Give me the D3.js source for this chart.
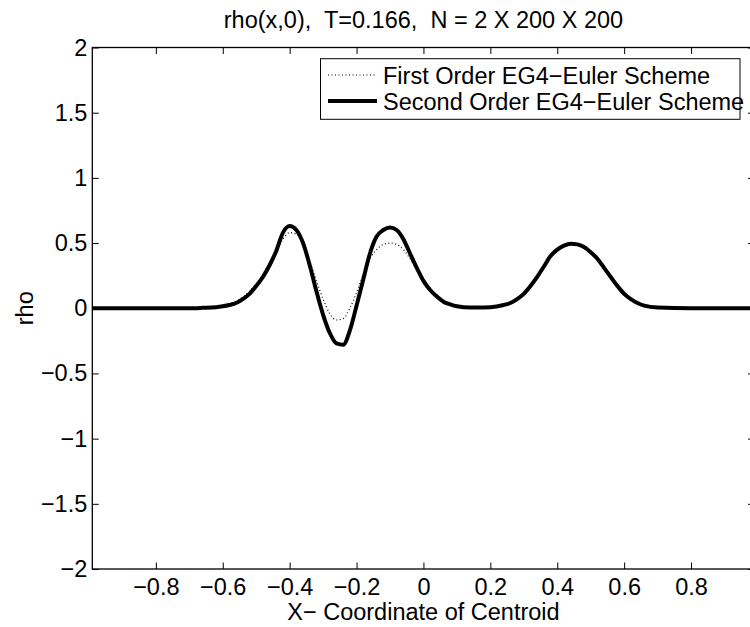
<!DOCTYPE html>
<html>
<head>
<meta charset="utf-8">
<script src="https://cdn.jsdelivr.net/npm/d3@7"></script>
<style>
  body { margin: 0; background: #fff; }
  svg text { font-family: "Liberation Sans", Arial, sans-serif; fill: #000; }
</style>
</head>
<body>
<div id="chart"></div>
<script>
const width = 750, height = 627;
const margin = { top: 47.5, left: 92.3 };
const plotW = 662.3, plotH = 521.5;

// x positions (cell centroids) shared by both series
const xs = [-0.99, -0.9, -0.8, -0.7, -0.66, -0.62, -0.6, -0.58, -0.56, -0.54,
  -0.52, -0.5, -0.48, -0.46, -0.44, -0.42, -0.4, -0.38, -0.36, -0.34,
  -0.32, -0.3, -0.28, -0.26, -0.24, -0.22, -0.2, -0.18, -0.16, -0.14,
  -0.12, -0.1, -0.08, -0.06, -0.04, -0.02, 0, 0.02, 0.04, 0.06,
  0.08, 0.1, 0.12, 0.16, 0.2, 0.24, 0.26, 0.28, 0.3, 0.32,
  0.34, 0.36, 0.38, 0.4, 0.42, 0.44, 0.46, 0.48, 0.5, 0.52,
  0.54, 0.56, 0.58, 0.6, 0.62, 0.64, 0.66, 0.7, 0.8, 0.9, 0.99];

const firstOrder = [0, 0, 0, 0, 0.005, 0.012, 0.02, 0.035, 0.055, 0.085,
  0.13, 0.19, 0.26, 0.35, 0.44, 0.53, 0.58, 0.57, 0.49, 0.36,
  0.21, 0.07, -0.04, -0.09, -0.08, 0.0, 0.12, 0.26, 0.38, 0.45,
  0.49, 0.5, 0.49, 0.45, 0.38, 0.3, 0.22, 0.15, 0.1, 0.06,
  0.035, 0.02, 0.01, 0.005, 0.008, 0.025, 0.04, 0.07, 0.11, 0.17,
  0.24, 0.32, 0.4, 0.45, 0.48, 0.495, 0.49, 0.47, 0.43, 0.38,
  0.31, 0.24, 0.17, 0.11, 0.07, 0.04, 0.02, 0.005, 0, 0, 0];

const secondOrder = [0, 0, 0, 0, 0.003, 0.008, 0.015, 0.025, 0.04, 0.07,
  0.11, 0.17, 0.24, 0.33, 0.44, 0.58, 0.63, 0.6, 0.5, 0.33,
  0.13, -0.05, -0.19, -0.27, -0.28, -0.17, 0.02, 0.22, 0.42, 0.55,
  0.6, 0.62, 0.6, 0.53, 0.42, 0.31, 0.21, 0.14, 0.09, 0.05,
  0.03, 0.015, 0.008, 0.005, 0.008, 0.025, 0.04, 0.07, 0.11, 0.17,
  0.24, 0.32, 0.4, 0.45, 0.48, 0.495, 0.49, 0.47, 0.43, 0.38,
  0.31, 0.24, 0.17, 0.11, 0.07, 0.04, 0.02, 0.005, 0, 0, 0];

const xTicks = [-0.8, -0.6, -0.4, -0.2, 0, 0.2, 0.4, 0.6, 0.8];
const yTicks = [-2, -1.5, -1, -0.5, 0, 0.5, 1, 1.5, 2];
const legendLabels = ["First Order EG4\u2212Euler Scheme", "Second Order EG4\u2212Euler Scheme"];

const fmt = d => String(d).replace("-", "\u2212");
const fs = 23.5;

const svg = d3.select("#chart").append("svg")
  .attr("width", width)
  .attr("height", height);

const chart = svg.append("g")
  .attr("transform", `translate(${margin.left},${margin.top})`);

const x = d3.scaleLinear().domain([-0.99, 0.99]).range([0, plotW]);
const y = d3.scaleLinear().domain([-2, 2]).range([plotH, 0]);

svg.append("defs").append("clipPath").attr("id", "clip")
  .append("rect").attr("width", plotW).attr("height", plotH);

// AXES (matlab style: ticks inward on all sides)
const tl = 6.5;
chart.append("g")
  .attr("transform", `translate(0,${plotH})`)
  .call(d3.axisBottom(x).tickValues(xTicks).tickFormat(fmt).tickSizeInner(-tl).tickSizeOuter(0).tickPadding(9));
chart.append("g")
  .call(d3.axisTop(x).tickValues(xTicks).tickFormat("").tickSizeInner(-tl).tickSizeOuter(0));
chart.append("g")
  .call(d3.axisLeft(y).tickValues(yTicks).tickFormat(fmt).tickSizeInner(-tl).tickSizeOuter(0).tickPadding(5));
chart.append("g")
  .attr("transform", `translate(${plotW},0)`)
  .call(d3.axisRight(y).tickValues(yTicks).tickFormat("").tickSizeInner(-tl).tickSizeOuter(0));

chart.selectAll(".domain").remove();
chart.selectAll(".tick line").attr("stroke", "#000").attr("stroke-width", 1);
chart.selectAll(".tick text").attr("font-size", fs).attr("font-family", null);

chart.append("rect")
  .attr("width", plotW).attr("height", plotH)
  .attr("fill", "none").attr("stroke", "#000").attr("stroke-width", 1.3);

const line = d3.line()
  .x((d, i) => x(xs[i]))
  .y(d => y(d))
  .curve(d3.curveMonotoneX);

const lines = chart.append("g").attr("clip-path", "url(#clip)");

lines.append("path")
  .datum(secondOrder)
  .attr("fill", "none").attr("stroke", "#000")
  .attr("stroke-width", 4).attr("stroke-linejoin", "round")
  .attr("d", line);

lines.append("path")
  .datum(firstOrder)
  .attr("fill", "none").attr("stroke", "#000")
  .attr("stroke-width", 1.2).attr("stroke-dasharray", "1,2.5")
  .attr("d", line);

// TITLE + LABELS
svg.append("text")
  .attr("x", margin.left + x(0)).attr("y", 28)
  .attr("text-anchor", "middle").attr("font-size", fs)
  .attr("xml:space", "preserve")
  .text("rho(x,0),  T=0.166,  N = 2 X 200 X 200");

svg.append("text")
  .attr("x", margin.left + x(0)).attr("y", 620)
  .attr("text-anchor", "middle").attr("font-size", fs)
  .text("X\u2212 Coordinate of Centroid");

svg.append("text")
  .attr("transform", `translate(33,${margin.top + y(0)}) rotate(-90)`)
  .attr("text-anchor", "middle").attr("font-size", fs)
  .text("rho");

// LEGEND
const legend = svg.append("g");
legend.append("rect")
  .attr("x", 320.5).attr("y", 58.7).attr("width", 419.5).attr("height", 60.6)
  .attr("fill", "#fff").attr("stroke", "#000").attr("stroke-width", 1);

legendLabels.forEach((lab, i) => {
  const cy = 75 + i * 26;
  legend.append("line")
    .attr("x1", 328).attr("x2", 377).attr("y1", cy).attr("y2", cy)
    .attr("stroke", "#000")
    .attr("stroke-width", i === 0 ? 1.2 : 4)
    .attr("stroke-dasharray", i === 0 ? "1,2.5" : null);
  legend.append("text")
    .attr("x", 383).attr("y", cy + 8.5)
    .attr("font-size", fs)
    .text(lab);
});
</script>
</body>
</html>
